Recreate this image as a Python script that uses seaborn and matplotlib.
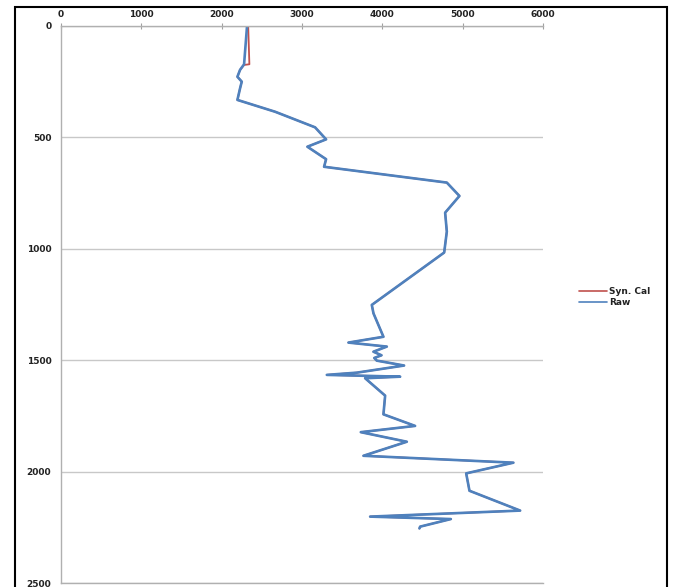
import numpy as np
import pandas as pd
import matplotlib
matplotlib.use('Agg')
import matplotlib.pyplot as plt
from matplotlib.patches import Rectangle
import seaborn as sns

# dados =======================================================================
raw_vel = [2316, 2279, 2229, 2196, 2250, 2229, 2196, 2665, 3163, 3300, 3067,
           3300, 3275, 4803, 4960, 4782, 4803, 4770, 3869, 3890, 4014, 3578,
           4056, 3889, 3990, 3900, 3931, 4271, 3682, 3309, 4222, 3786, 4035,
           4014, 4408, 3732, 4305, 3765, 5632, 5044, 5085, 5716, 3848, 4853,
           4471, 4462]
raw_depth = [0, 172, 197, 228, 250, 280, 332, 385, 455, 509, 542,
             598, 632, 703, 763, 838, 923, 1017, 1252, 1290, 1395, 1421,
             1439, 1462, 1478, 1490, 1502, 1524, 1556, 1566, 1574, 1581, 1659,
             1743, 1795, 1823, 1866, 1929, 1960, 2008, 2086, 2175, 2202, 2213,
             2247, 2255]

syn_vel = [2330, 2345, 2279] + raw_vel[2:]
syn_depth = [0, 172, 175] + raw_depth[2:]

x_ticks = [0, 1000, 2000, 3000, 4000, 5000, 6000]
y_ticks = [0, 500, 1000, 1500, 2000, 2500]

df = pd.concat([
    pd.DataFrame({'vel': syn_vel, 'depth': syn_depth, 'serie': 'Syn. Cal'}),
    pd.DataFrame({'vel': raw_vel, 'depth': raw_depth, 'serie': 'Raw'}),
], ignore_index=True)

# plot ========================================================================
sns.set_style('white')
plt.rcParams['font.family'] = ['DejaVu Sans']

fig = plt.figure(figsize=(6.75, 5.87), dpi=100)
ax = fig.add_axes([0.0904, 0.0068, 0.714, 0.949])

sns.lineplot(data=df, x='vel', y='depth', hue='serie', sort=False,
             estimator=None, palette={'Syn. Cal': '#c0504d', 'Raw': '#4f81bd'},
             size='serie', sizes={'Syn. Cal': 1.3, 'Raw': 1.9},
             ax=ax, legend=True)

ax.set_xlim(0, 6000)
ax.set_ylim(2500, 0)
ax.set_xticks(x_ticks)
ax.set_yticks(y_ticks)
ax.xaxis.tick_top()
ax.set_xlabel('')
ax.set_ylabel('')
ax.tick_params(axis='x', direction='inout', length=4, color='#a0a0a0',
               labelsize=6.5, pad=3, labelcolor='#222222')
ax.tick_params(axis='y', direction='out', length=4, color='#a0a0a0',
               labelsize=6.5, pad=3, labelcolor='#222222')
for lab in ax.get_xticklabels() + ax.get_yticklabels():
    lab.set_fontweight('bold')

ax.grid(axis='y', color='#c8c8c8', linewidth=1)
ax.grid(axis='x', visible=False)
for s in ['top', 'left', 'bottom']:
    ax.spines[s].set_color('#b0b0b0')
    ax.spines[s].set_linewidth(1)
ax.spines['right'].set_visible(False)

ax.get_legend().remove()
h, l = ax.get_legend_handles_labels()
leg = fig.legend(h, l, loc='center left', bbox_to_anchor=(0.845, 0.494),
                 frameon=False, fontsize=6.5, handlelength=3.2,
                 handletextpad=0.2, labelspacing=0.3)
for t in leg.get_texts():
    t.set_fontweight('bold')
    t.set_color('#222222')
for ln in leg.get_lines():
    ln.set_linewidth(1.2)

# moldura
fig.patches.append(Rectangle((0.022, -0.05), 0.966, 1.038, transform=fig.transFigure,
                             fill=False, edgecolor='black', linewidth=1.5))

fig.savefig('out.png', dpi=100)
